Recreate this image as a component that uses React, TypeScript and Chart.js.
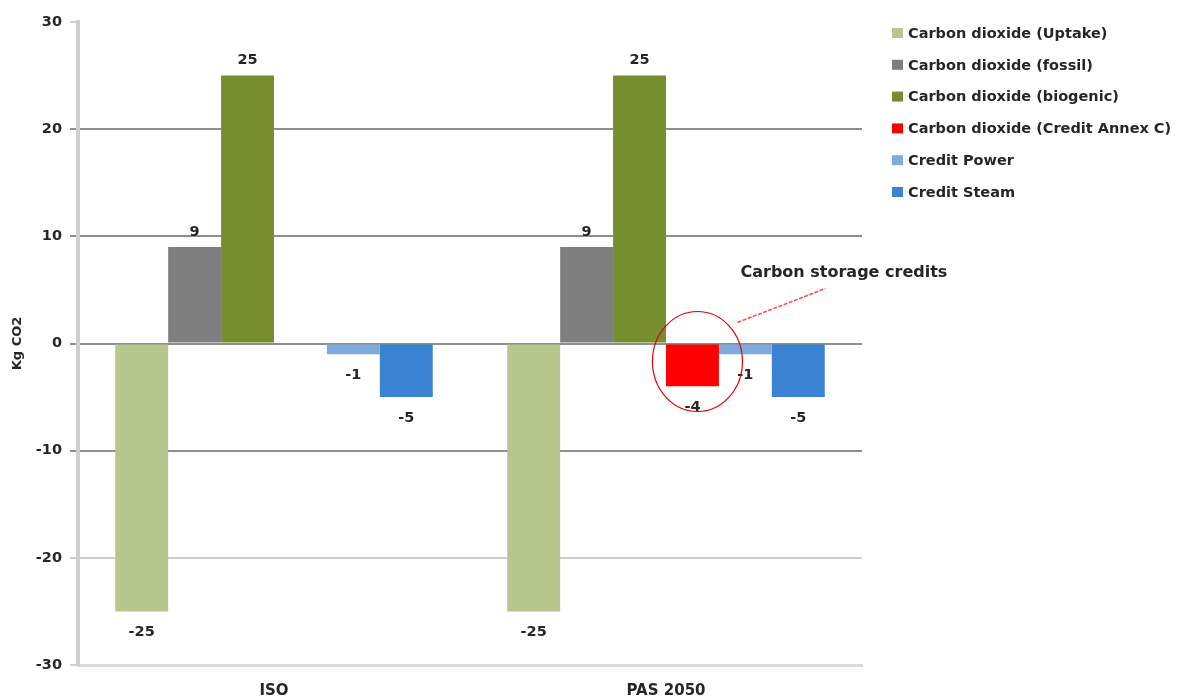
import { useEffect, useRef } from "react";
import { Chart, registerables } from "chart.js";

Chart.register(...registerables);

// Categories along the x axis
const categories = ["ISO", "PAS 2050"];

// Series names (legend order)
const seriesNames = [
  "Carbon dioxide (Uptake)",
  "Carbon dioxide (fossil)",
  "Carbon dioxide (biogenic)",
  "Carbon dioxide (Credit Annex C)",
  "Credit Power",
  "Credit Steam",
];

// Series values, kg CO2 per category
const uptakeValues = [-25, -25];
const fossilValues = [9, 9];
const biogenicValues = [25, 25];
const creditAnnexCValues: (number | null)[] = [null, -4];
const creditPowerValues = [-1, -1];
const creditSteamValues = [-5, -5];

const seriesColors = ["#b6c68d", "#7f7f7f", "#778e2e", "#ff0000", "#7eaae0", "#3a82d2"];

// Y axis range and tick step
const yMin = -30;
const yMax = 30;
const yStep = 10;

const yAxisTitle = "Kg CO2";
const calloutText = "Carbon storage credits";

const FONT = "'DejaVu Sans', 'Liberation Sans', sans-serif";
const TEXT_COLOR = "#262626";

const seriesValues = [
  uptakeValues,
  fossilValues,
  biogenicValues,
  creditAnnexCValues,
  creditPowerValues,
  creditSteamValues,
];

// Value labels above positive bars and below negative bars
const valueLabelPlugin = {
  id: "valueLabels",
  afterDatasetsDraw(chart: any) {
    const { ctx } = chart;
    ctx.save();
    ctx.font = `bold 14.5px ${FONT}`;
    ctx.fillStyle = TEXT_COLOR;
    ctx.textAlign = "center";
    ctx.textBaseline = "middle";
    chart.data.datasets.forEach((ds: any, di: number) => {
      const meta = chart.getDatasetMeta(di);
      meta.data.forEach((el: any, i: number) => {
        const v = ds.data[i];
        if (v === null || v === undefined) return;
        const y = v >= 0 ? el.y - 15 : el.y + 21;
        ctx.fillText(String(v), el.x, y);
      });
    });
    ctx.restore();
  },
};

// Circle and pointer line around the Annex C credit bar
const calloutPlugin = {
  id: "callout",
  afterDatasetsDraw(chart: any) {
    const idx = seriesNames.indexOf("Carbon dioxide (Credit Annex C)");
    const catIdx = creditAnnexCValues.findIndex((v) => v !== null);
    const el = chart.getDatasetMeta(idx).data[catIdx];
    if (!el) return;
    const zeroY = chart.scales.y.getPixelForValue(0);
    const { ctx } = chart;
    ctx.save();
    ctx.strokeStyle = "#e60000";
    ctx.lineWidth = 1.2;
    ctx.beginPath();
    ctx.ellipse(el.x + 5, zeroY + 18, 45, 50, 0, 0, Math.PI * 2);
    ctx.stroke();

    ctx.strokeStyle = "#ff4f4f";
    ctx.lineWidth = 1.6;
    ctx.setLineDash([4, 1.5]);
    ctx.beginPath();
    ctx.moveTo(el.x + 45, zeroY - 21);
    ctx.lineTo(el.x + 133, zeroY - 55);
    ctx.stroke();
    ctx.setLineDash([]);

    ctx.font = `bold 16px ${FONT}`;
    ctx.fillStyle = TEXT_COLOR;
    ctx.textAlign = "left";
    ctx.textBaseline = "middle";
    ctx.fillText(calloutText, el.x + 48, zeroY - 71);
    ctx.restore();
  },
};

// Vertical legend on the right
const sideLegendPlugin = {
  id: "sideLegend",
  afterDraw(chart: any) {
    const { ctx } = chart;
    const x0 = chart.chartArea.right + 30;
    const y0 = 33;
    const step = 31.8;
    ctx.save();
    ctx.font = `bold 14.5px ${FONT}`;
    ctx.textAlign = "left";
    ctx.textBaseline = "middle";
    chart.data.datasets.forEach((ds: any, i: number) => {
      const y = y0 + i * step;
      ctx.fillStyle = ds.backgroundColor;
      ctx.fillRect(x0, y - 5, 11, 10);
      ctx.fillStyle = TEXT_COLOR;
      ctx.fillText(ds.label, x0 + 16, y + 1);
    });
    ctx.restore();
  },
};

export default function App() {
  const canvasRef = useRef<HTMLCanvasElement | null>(null);

  useEffect(() => {
    if (!canvasRef.current) return;
    const gridColor = (ctx: any) => {
      const v = ctx.tick?.value;
      if (v === yMax || v === yMin) return "rgba(0,0,0,0)";
      if (v === -20) return "#cdcdcd";
      return "#8e8e8e";
    };
    const chart = new Chart(canvasRef.current, {
      type: "bar",
      data: {
        labels: categories,
        datasets: seriesNames.map((name, i) => ({
          label: name,
          data: seriesValues[i],
          backgroundColor: seriesColors[i],
          borderWidth: 0,
          categoryPercentage: 0.81,
          barPercentage: 1,
        })),
      },
      options: {
        animation: false,
        responsive: true,
        maintainAspectRatio: false,
        layout: { padding: { left: 10, right: 320, top: 22, bottom: 0 } },
        plugins: {
          legend: { display: false },
          tooltip: { enabled: false },
        },
        scales: {
          x: {
            grid: { display: false },
            border: { display: true, color: "#d9d9d9", width: 3 },
            ticks: {
              color: TEXT_COLOR,
              font: { family: FONT, size: 15, weight: "bold" },
              padding: 9,
            },
            afterFit: (scale: any) => {
              scale.height = 35;
            },
          },
          y: {
            min: yMin,
            max: yMax,
            ticks: {
              stepSize: yStep,
              color: TEXT_COLOR,
              font: { family: FONT, size: 14.5, weight: "bold" },
              padding: 8,
            },
            grid: {
              color: gridColor,
              tickColor: (ctx: any) =>
                ctx.tick?.value === yMax || ctx.tick?.value === yMin ? "#d0d0d0" : gridColor(ctx),
              lineWidth: 2,
              tickLength: 8,
            },
            border: { display: true, color: "#cfcfcf", width: 4 },
            title: {
              display: true,
              text: yAxisTitle,
              color: TEXT_COLOR,
              font: { family: FONT, size: 13, weight: "bold" },
              padding: 0,
            },
            afterFit: (scale: any) => {
              scale.width = 68;
            },
          },
        },
      },
      plugins: [valueLabelPlugin, calloutPlugin, sideLegendPlugin],
    });
    return () => chart.destroy();
  }, []);

  return (
    <div style={{ position: "fixed", left: 0, top: 0, width: 1182, height: 700, background: "#ffffff" }}>
      <canvas ref={canvasRef} />
    </div>
  );
}
